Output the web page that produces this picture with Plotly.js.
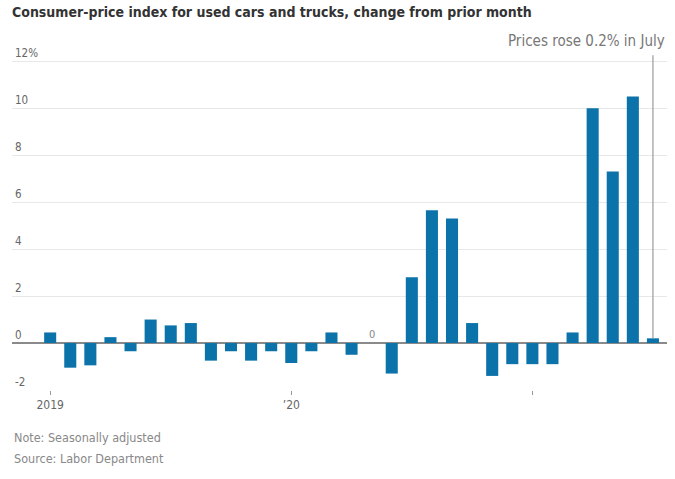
<!DOCTYPE html>
<html>
<head>
<meta charset="utf-8">
<script src="https://cdn.plot.ly/plotly-3.0.1.min.js"></script>
<style>
html,body{margin:0;padding:0;background:#fff;}
#chart{width:675px;height:479px;}
</style>
</head>
<body>
<div id="chart"></div>
<script>
// Months Jan 2019 .. Jul 2021
const months = [
  '2019-01','2019-02','2019-03','2019-04','2019-05','2019-06','2019-07','2019-08','2019-09','2019-10','2019-11','2019-12',
  '2020-01','2020-02','2020-03','2020-04','2020-05','2020-06','2020-07','2020-08','2020-09','2020-10','2020-11','2020-12',
  '2021-01','2021-02','2021-03','2021-04','2021-05','2021-06','2021-07'
];
// Monthly % change, used cars and trucks CPI
const changes = [
  0.45, -1.05, -0.95, 0.25, -0.35, 1.0, 0.75, 0.85, -0.75, -0.35, -0.75, -0.35,
  -0.85, -0.35, 0.45, -0.5, 0.0, -1.3, 2.8, 5.65, 5.3, 0.85, -1.4, -0.9,
  -0.9, -0.9, 0.45, 10.0, 7.3, 10.5, 0.2
];
const yTickVals = [-2, 0, 2, 4, 6, 8, 10, 12];
const yTickText = ['-2', '0', '2', '4', '6', '8', '10', '12%'];
const xTickVals = ['2019-01', '2020-01', '2021-01'];
const xTickText = ['2019', "\u201920", ''];
const titleText = 'Consumer-price index for used cars and trucks, change from prior month';
const calloutText = 'Prices rose 0.2% in July';
const noteText = 'Note: Seasonally adjusted';
const sourceText = 'Source: Labor Department';

const FONT = '"Liberation Sans Narrow", "DejaVu Sans Condensed", "Roboto Condensed", Arial, sans-serif';
const last = months.length - 1;
const zeroIdx = changes.indexOf(0);
const lineTop = 12.25;

const trace = {
  type: 'bar',
  x: months,
  y: changes,
  marker: {color: '#0b73a9', line: {width: 0}},
  hoverinfo: 'x+y'
};

const layout = {
  width: 675, height: 479,
  margin: {l: 12, r: 8, t: 33, b: 89},
  paper_bgcolor: '#fff', plot_bgcolor: '#fff',
  bargap: 0.4,
  showlegend: false,
  font: {family: FONT, color: '#666', size: 12},
  xaxis: {
    type: 'category',
    range: [-1.9, 30.7],
    tickmode: 'array', tickvals: xTickVals, ticktext: xTickText,
    ticks: 'outside', ticklen: 4, tickcolor: '#999', tickwidth: 1,
    showgrid: false, zeroline: false, showline: false,
    tickfont: {family: FONT, size: 12, color: '#666'}
  },
  yaxis: {
    range: [-2, 13.2],
    tickmode: 'array', tickvals: yTickVals, ticktext: yTickText,
    ticklabelposition: 'inside top',
    showgrid: true, gridcolor: '#e8e8e8', gridwidth: 1,
    zeroline: true, zerolinecolor: '#8a8a8a', zerolinewidth: 1.5,
    showline: false, ticks: '',
    tickfont: {family: FONT, size: 11.5, color: '#666'}
  },
  shapes: [{
    type: 'line', xref: 'x', yref: 'y',
    x0: months[last], x1: months[last], y0: changes[last], y1: lineTop,
    line: {color: '#999', width: 1.2}
  }],
  annotations: [
    {text: '<b>' + titleText + '</b>', xref: 'paper', yref: 'paper', x: -0.003, y: 1.0, yshift: 11,
     xanchor: 'left', yanchor: 'bottom', showarrow: false,
     font: {family: FONT, size: 14, color: '#333'}},
    {text: calloutText, xref: 'paper', yref: 'paper', x: 1.0, y: 1.0, yshift: -19,
     xanchor: 'right', yanchor: 'bottom', showarrow: false,
     font: {family: FONT, size: 15, color: '#777'}},
    {text: '0', xref: 'x', yref: 'y', x: months[zeroIdx], y: 0, yshift: 9,
     xanchor: 'center', yanchor: 'middle', showarrow: false,
     font: {family: FONT, size: 11, color: '#888'}},
    {text: noteText, xref: 'paper', yref: 'paper', x: 0, y: 0, yshift: -47,
     xanchor: 'left', yanchor: 'middle', showarrow: false,
     font: {family: FONT, size: 12.5, color: '#888'}},
    {text: sourceText, xref: 'paper', yref: 'paper', x: 0, y: 0, yshift: -68,
     xanchor: 'left', yanchor: 'middle', showarrow: false,
     font: {family: FONT, size: 12.5, color: '#888'}}
  ]
};

Plotly.newPlot('chart', [trace], layout, {staticPlot: true, displayModeBar: false});
</script>
</body>
</html>
